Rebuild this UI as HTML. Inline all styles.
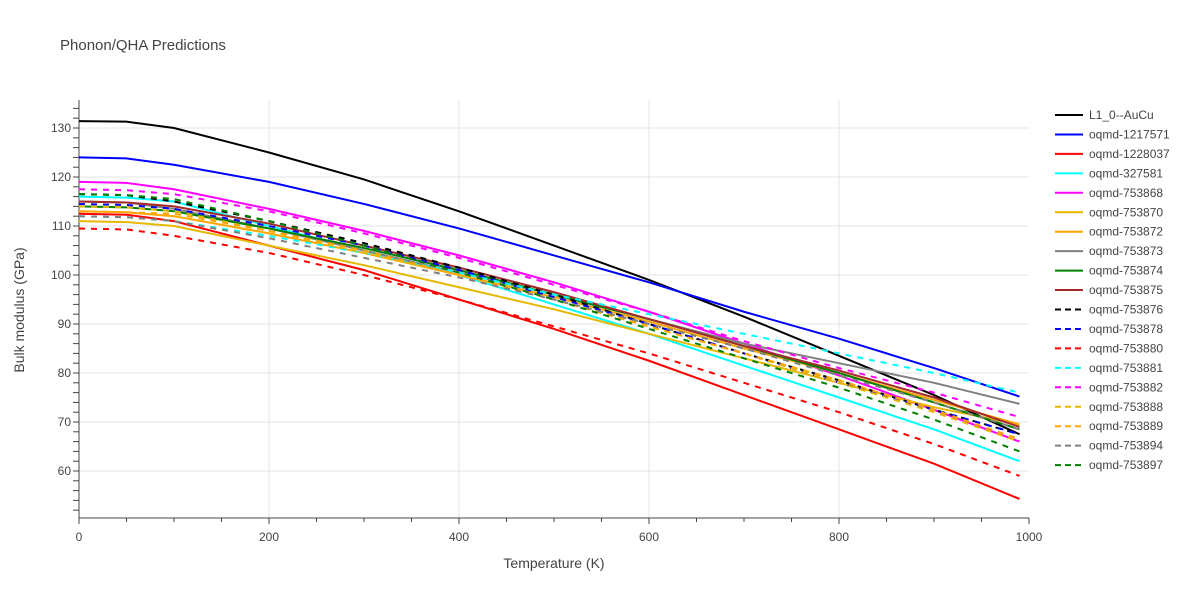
<!DOCTYPE html>
<html><head><meta charset="utf-8"><style>
body{margin:0;background:#fff;font-family:"Liberation Sans",sans-serif}
svg text{font-family:"Liberation Sans",sans-serif}
</style></head><body>
<svg id="c" width="1200" height="600"></svg>
<script>
const temps=[0,50,100,200,300,400,500,600,700,800,900,990];
const names=["L1_0--AuCu","oqmd-1217571","oqmd-1228037","oqmd-327581","oqmd-753868","oqmd-753870","oqmd-753872","oqmd-753873","oqmd-753874","oqmd-753875","oqmd-753876","oqmd-753878","oqmd-753880","oqmd-753881","oqmd-753882","oqmd-753888","oqmd-753889","oqmd-753894","oqmd-753897"];
const colors=["#000","#0000ff","#ff0000","#00ffff","#ff00ff","#e6b800","#ffa500","#808080","#008000","#a52a2a","#000","#0000ff","#ff0000","#00ffff","#ff00ff","#e6b800","#ffa500","#808080","#008000"];
const dashed=[0,0,0,0,0,0,0,0,0,0,1,1,1,1,1,1,1,1,1];
const s0=[131.4,131.3,130,125,119.5,113,106,99,91.5,83.5,75.5,67.5];
const s1=[124,123.8,122.5,119,114.5,109.5,104,98.5,92.5,87,81,75.2];
const s2=[112.5,112.3,111,106,101,95,89,82.5,75.5,68.5,61.5,54.3];
const s3=[116,115.8,115,110,105,100,94,88,81.5,75,68.5,62];
const s4=[119,118.8,117.5,113.5,109,104,98.5,92.5,86,79.5,72.5,66];
const s5=[111,110.8,110,106,102,97.5,93,88,83,78,73,69.5];
const s6=[113,112.8,112,108.5,104.5,100,95.5,90.5,85,80,74.5,69.5];
const s7=[115,114.8,113.5,109.5,105,100.5,96,91,86,82,78,73.7];
const s8=[114,113.8,113,109.5,105.5,101,96,91,85.5,80,74,68.5];
const s9=[115,114.8,114,110.5,106,101.5,96.5,91,85.5,80.5,75,69];
const s10=[116.5,116.3,115,111,106.5,101.5,96,90,84,78.5,72.5,67.5];
const s11=[114.5,114.3,113.5,110,106,101,95.5,90,84,78,72.5,67.5];
const s12=[109.5,109.3,108,104.5,100,95,89.5,84,78,72,65.5,59];
const s13=[112,111.8,111,108,104.5,100.5,96,92,88,84,80,76];
const s14=[117.5,117.3,116.5,113,108.5,103.5,98,92.5,86.5,81,76,71];
const s15=[114,113.8,113,109,104.5,100,95,89.5,84,78,72,66];
const s16=[113,112.8,112.5,109,105,100,95,89.5,84,78.5,72.5,66.5];
const s17=[112,111.8,111,107.5,103.5,99.5,95,90,85,79.5,74,68.5];
const s18=[116.5,116.3,115.5,111,106,100.5,95,89,83,77,70.5,64];
const series=[s0,s1,s2,s3,s4,s5,s6,s7,s8,s9,s10,s11,s12,s13,s14,s15,s16,s17,s18];
const yTicks=[60,70,80,90,100,110,120,130];
const xTicks=[0,200,400,600,800,1000];
const NS="http://www.w3.org/2000/svg";
const svg=document.getElementById('c');
const X=t=>79+t*0.95, Y=v=>128+(130-v)*4.9;
function mk(tag,a,p){const e=document.createElementNS(NS,tag);for(const k in a)e.setAttribute(k,a[k]);(p||svg).appendChild(e);return e;}
let t=mk('text',{x:60,y:50,'font-size':15,fill:'#444'});t.textContent='Phonon/QHA Predictions';


yTicks.forEach(v=>{const l=mk('line',{x1:79,x2:1029,y1:Y(v),y2:Y(v),stroke:'#e5e5e5'});


const tx=mk('text',{x:71,y:Y(v)+4,'font-size':12,fill:'#444','text-anchor':'end'});tx.textContent=v;

});
for(let v=52;v<=134;v+=2){mk('line',{x1:73,x2:79,y1:Y(v),y2:Y(v),stroke:'#444'});}
xTicks.forEach(v=>{if(v>0&&v<1000){const l=mk('line',{x1:X(v),x2:X(v),y1:100,y2:518,stroke:'#e5e5e5'});

}
const tx=mk('text',{x:X(v),y:541,'font-size':12,fill:'#444','text-anchor':'middle'});tx.textContent=v;

});
for(let v=0;v<=1000;v+=50){mk('line',{x1:X(v),x2:X(v),y1:518,y2:v%200==0?524:522,stroke:'#444'});}
mk('line',{x1:79,x2:79,y1:100,y2:518,stroke:'#444'});
mk('line',{x1:79,x2:1029,y1:518,y2:518,stroke:'#444'});
series.forEach((s,i)=>{const p=mk('path',{d:s.map((v,j)=>(j?'L':'M')+X(temps[j])+','+Y(v)).join(''),fill:'none',stroke:colors[i],'stroke-width':2,'stroke-dasharray':dashed[i]?'6,6':'none'});


const ly=115+i*19.45;
const g=mk('g',{});


mk('line',{x1:1055,x2:1083,y1:ly,y2:ly,stroke:colors[i],'stroke-width':2,'stroke-dasharray':dashed[i]?'6,4':'none'},g);
const tx=mk('text',{x:1089,y:ly+4,'font-size':12,fill:'#444'},g);tx.textContent=names[i];});
t=mk('text',{x:554,y:568,'font-size':14,fill:'#444','text-anchor':'middle'});t.textContent='Temperature (K)';


t=mk('text',{x:24,y:310,'font-size':14,fill:'#444','text-anchor':'middle',transform:'rotate(-90 24 310)'});t.textContent='Bulk modulus (GPa)';


</script>
</body></html>
